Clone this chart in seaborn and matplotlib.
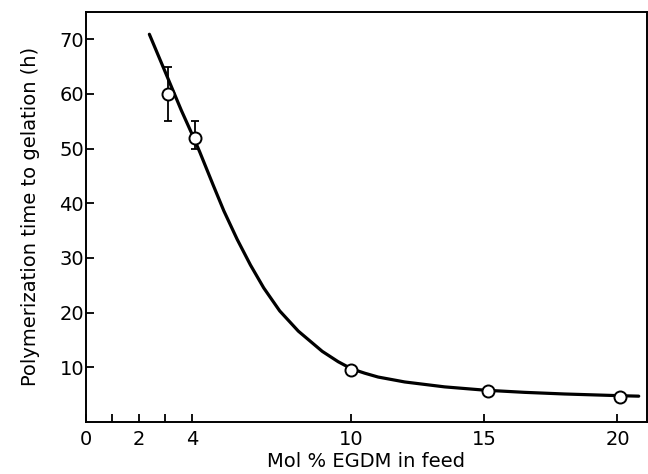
import numpy as np
import pandas as pd
import matplotlib
matplotlib.use('Agg')
import matplotlib.pyplot as plt
import seaborn as sns

# measured points (mol % EGDM, hours)
point_x = [3.1, 4.1, 10.0, 15.15, 20.1]
point_y = [60.0, 52.0, 9.5, 5.6, 4.6]
err_low = [55.0, 50.0, 9.5, 5.6, 4.6]
err_high = [65.0, 55.0, 9.5, 5.6, 4.6]

# hand-drawn trend curve
curve_x = [2.4, 3.1, 3.6, 4.1, 4.3, 4.8, 5.2, 5.7, 6.2, 6.7, 7.3, 8.0, 8.9,
           9.5, 10.0, 10.5, 11.0, 12.0, 13.5, 15.0, 16.5, 18.0, 20.0, 20.8]
curve_y = [70.9, 62.8, 57.0, 51.6, 49.3, 43.3, 38.6, 33.4, 28.7, 24.5, 20.3, 16.6, 12.9,
           11.0, 9.7, 8.9, 8.2, 7.3, 6.4, 5.8, 5.4, 5.1, 4.8, 4.7]

x_major = [0, 2, 4, 10, 15, 20]
x_minor = [1, 3]
x_labels = ['0', '2', '4', '10', '15', '20']
y_ticks = [10, 20, 30, 40, 50, 60, 70]


def main():
    sns.set_style('ticks')
    plt.rcParams['font.family'] = ['DejaVu Sans']

    fig = plt.figure(figsize=(6.48, 4.74), dpi=100)
    ax = fig.add_axes([0.132, 0.11, 0.866, 0.865])

    curve = pd.DataFrame({'x': curve_x, 'y': curve_y})
    sns.lineplot(data=curve, x='x', y='y', sort=False, color='black',
                 linewidth=2.3, ax=ax, solid_joinstyle='round', solid_capstyle='round')

    py = np.array(point_y)
    yerr = [py - np.array(err_low), np.array(err_high) - py]
    ax.errorbar(point_x, point_y, yerr=yerr, fmt='none', ecolor='black',
                elinewidth=1.3, capsize=3, capthick=1.3, zorder=3)
    sns.scatterplot(x=point_x, y=point_y, s=75, facecolor='white',
                    edgecolor='black', linewidth=1.4, zorder=4, ax=ax)

    ax.set_xlim(0, 21.1)
    ax.set_ylim(0, 75)
    ax.set_xticks(x_major)
    ax.set_xticklabels(x_labels)
    ax.set_xticks(x_minor, minor=True)
    ax.set_yticks(y_ticks)
    ax.tick_params(axis='both', which='both', direction='in', length=6,
                   width=1.3, labelsize=14, colors='black', pad=6)
    ax.tick_params(axis='y', pad=1)

    for spine in ax.spines.values():
        spine.set_visible(True)
        spine.set_linewidth(1.4)
        spine.set_color('black')

    ax.set_xlabel('Mol % EGDM in feed', fontsize=14, labelpad=2, color='black')
    ax.set_ylabel('Polymerization time to gelation (h)', fontsize=14, labelpad=14,
                  color='black')

    fig.savefig('out.png', dpi=100, facecolor='white')
    plt.close(fig)


if __name__ == '__main__':
    main()
